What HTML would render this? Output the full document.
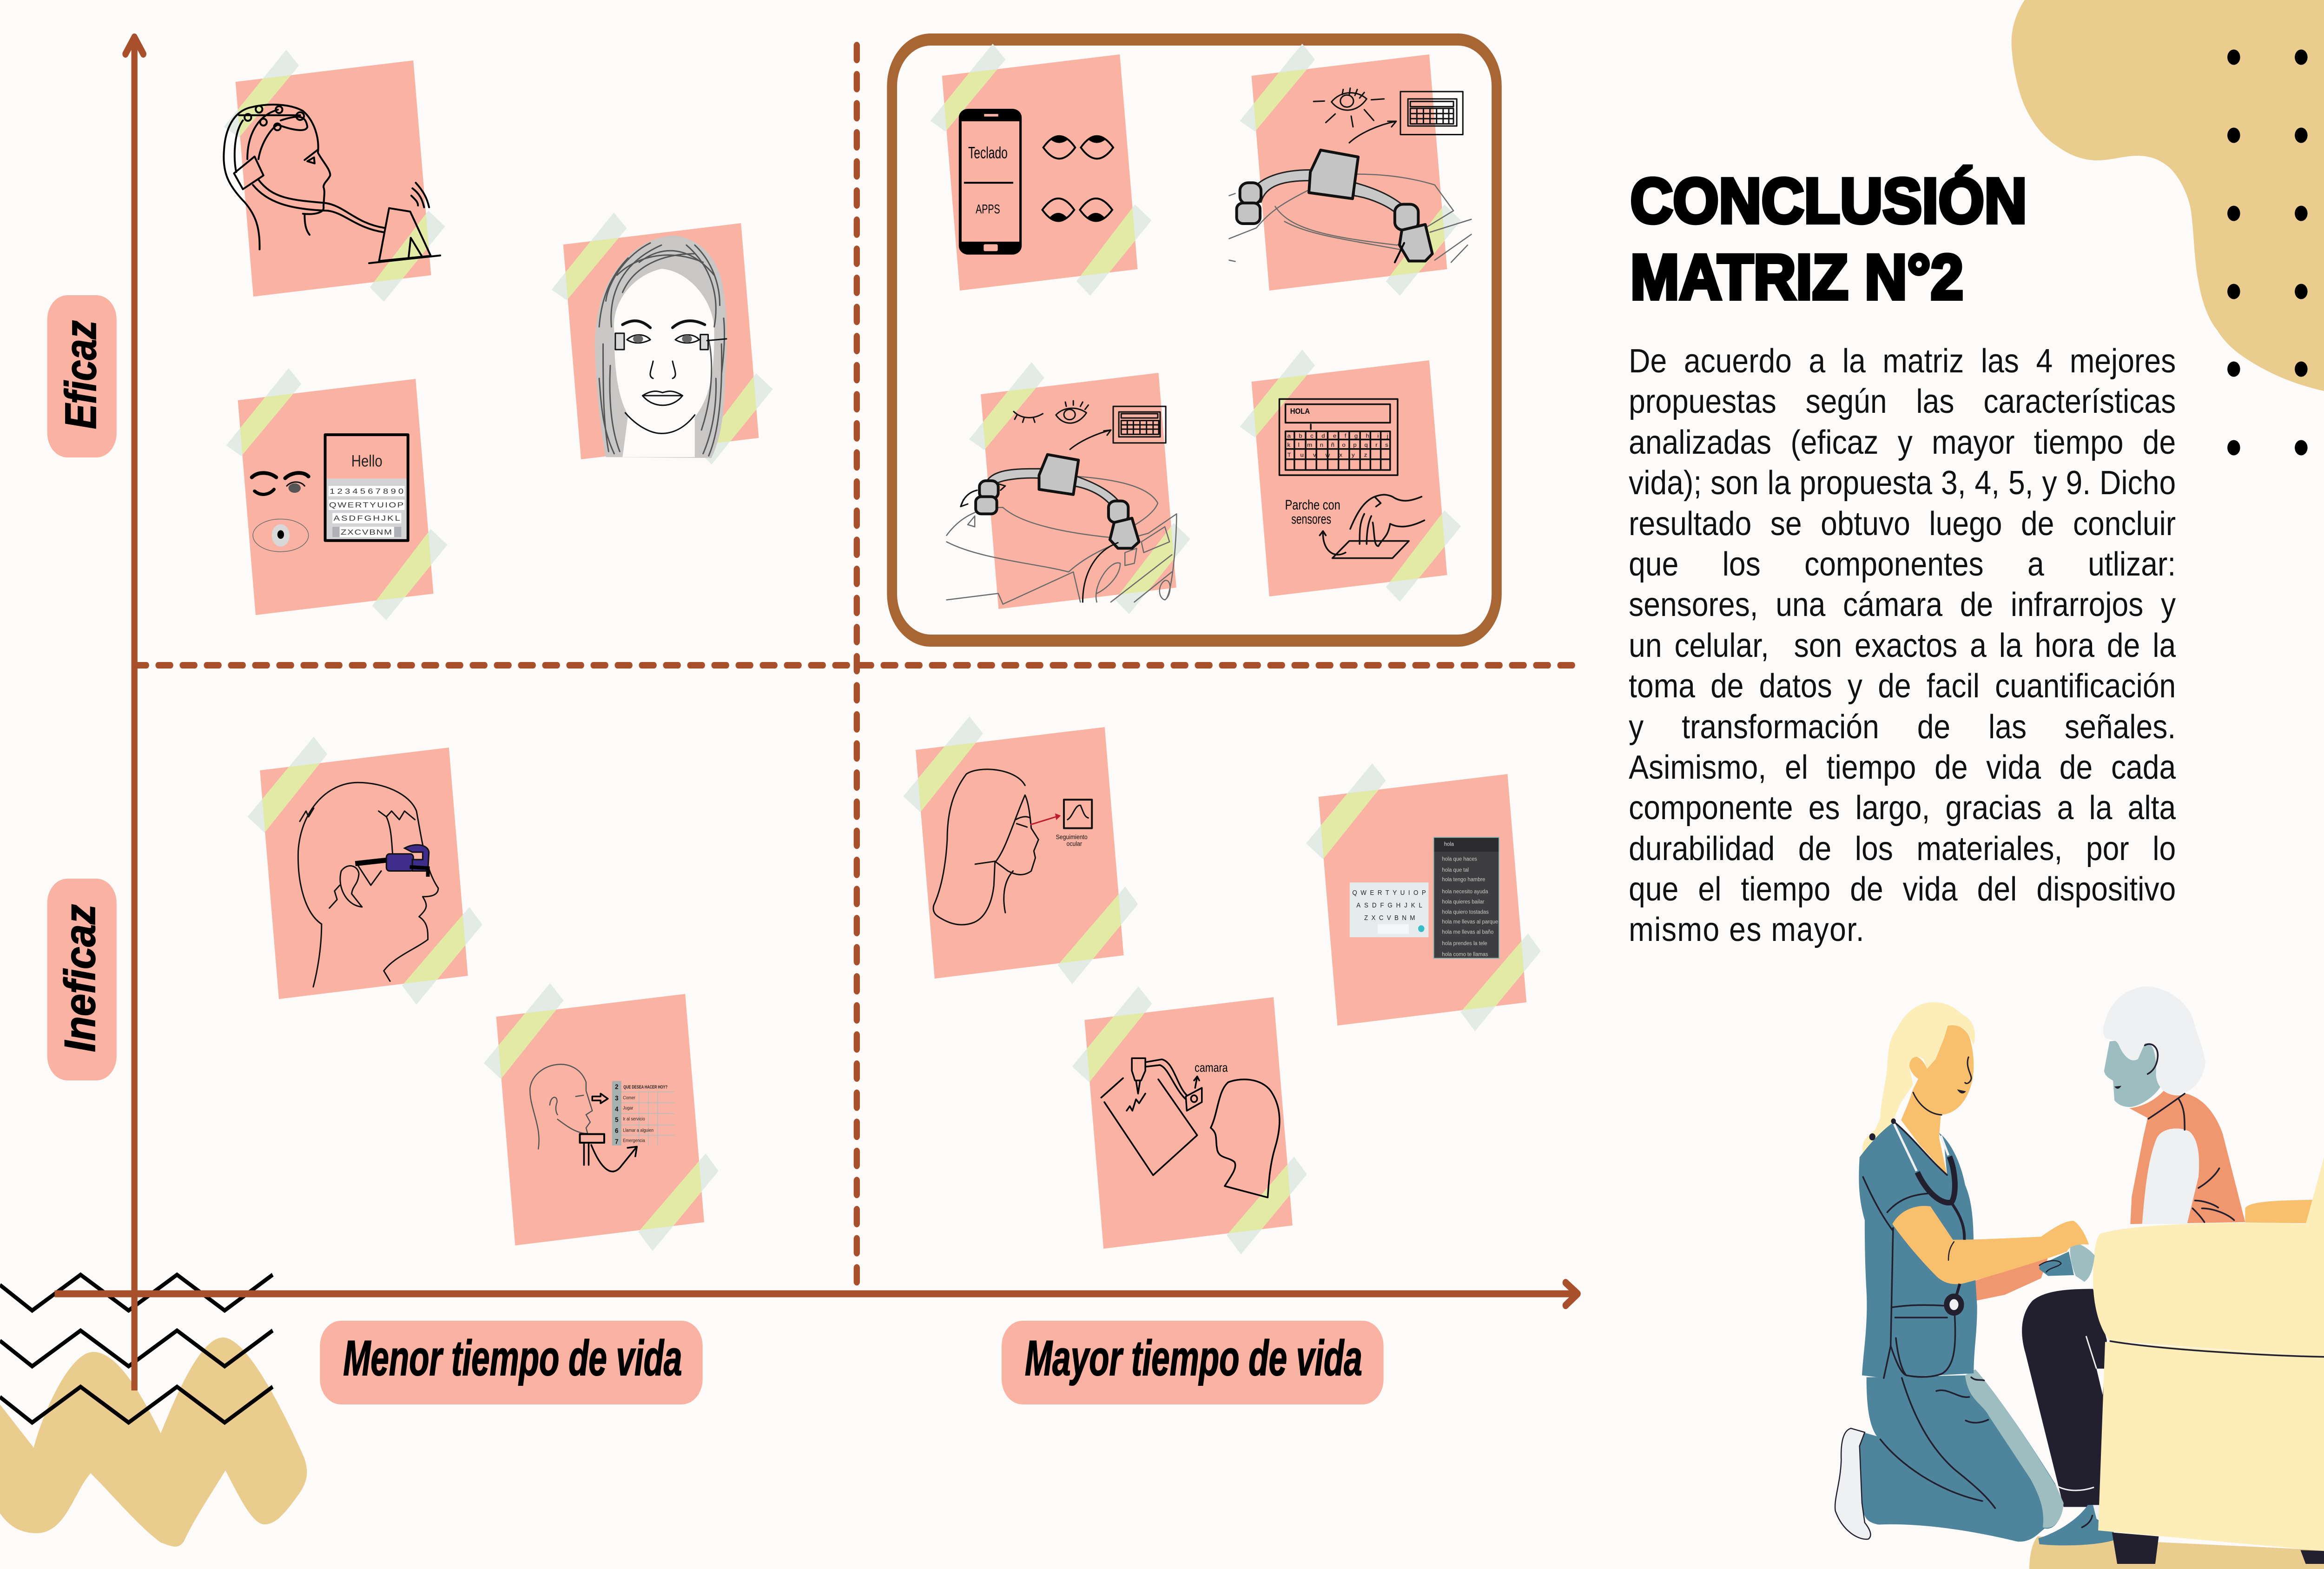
<!DOCTYPE html>
<html lang="es"><head><meta charset="utf-8"><title>Conclusión Matriz N°2</title>
<style>
html,body{margin:0;padding:0;background:#fcfbf9;width:100%;height:100%;overflow:hidden;font-family:"Liberation Sans",sans-serif}
svg.main{position:absolute;left:0;top:0;display:block;width:100vw;height:100vh}
.nss *{vector-effect:non-scaling-stroke}
.k{fill:none;stroke:#000;stroke-width:4;stroke-linecap:round;stroke-linejoin:round}
.t{fill:none;stroke:#111;stroke-width:3;stroke-linecap:round;stroke-linejoin:round}
.g{fill:none;stroke:#6b6b6b;stroke-width:2.5;stroke-linecap:round;stroke-linejoin:round}
.h{fill:none;stroke:#555;stroke-width:3;stroke-linecap:round}
.dev{fill:#c4c4c4;stroke:#111;stroke-width:6;stroke-linejoin:round}
.d{fill:none;stroke:#22202f;stroke-width:3.5;stroke-linecap:round;stroke-linejoin:round}
.body-text{width:1320px;font-family:"Liberation Sans",sans-serif;font-size:72px;line-height:87.4px;color:#111}
.body-text div{height:87.4px;white-space:normal;text-align:justify;text-align-last:justify;width:1320px}
.body-text div.last{text-align:left;text-align-last:left;letter-spacing:1.7px}
</style></head>
<body>
<svg class="main" viewBox="0 0 6000 3375" preserveAspectRatio="none" xmlns="http://www.w3.org/2000/svg">
<defs>
<clipPath id="clipA"><polygon points="0,0 459,-46 505,416 46,462"/></clipPath>
<clipPath id="clipB"><polygon points="0,0 488,-49 537,442 49,492"/></clipPath>
<g id="noteA">
<polygon points="0,0 459,-46 505,416 46,462" fill="#fab3a2"/>
<polygon points="131,-69 164,-35 9,120 -30,97" fill="#e3ebe6"/>
<polygon points="498,277 541,311 383,473 347,442" fill="#e3ebe6"/>
<g clip-path="url(#clipA)"><polygon points="131,-69 164,-35 9,120 -30,97" fill="#e2eaa6"/><polygon points="498,277 541,311 383,473 347,442" fill="#e2eaa6"/></g>
</g>
<g id="noteB">
<polygon points="0,0 488,-49 537,442 49,492" fill="#fab3a2"/>
<polygon points="139,-72 174,-35 12,134 -32,100" fill="#e3ebe6"/>
<polygon points="541,294 574,332 404,504 367,463" fill="#e3ebe6"/>
<g clip-path="url(#clipB)"><polygon points="139,-72 174,-35 12,134 -32,100" fill="#e2eaa6"/><polygon points="541,294 574,332 404,504 367,463" fill="#e2eaa6"/></g>
</g>
</defs>

<rect width="6000" height="3375" fill="#fcfbf9"/>

<!-- decorative blobs -->
<path fill="#e9cc8e" d="M5227,0 C5200,35 5190,70 5194,107 C5198,150 5210,195 5227,228 C5250,270 5280,298 5312,315 C5345,335 5380,345 5415,345 C5450,345 5485,335 5518,335 C5555,335 5580,345 5603,362 C5630,385 5650,420 5657,455 C5665,510 5665,560 5675,603 C5685,650 5700,685 5724,710 C5750,745 5785,765 5821,783 C5880,812 5940,830 6000,841 L6000,0 Z"/>
<path fill="#e9cc8e" d="M0,3021 L87,3114 C110,3040 180,2908 241,2908 C300,2908 360,2990 415,3083 C460,2990 520,2877 576,2877 C640,2877 740,3050 785,3135 C800,3170 790,3190 775,3210 C740,3250 715,3279 683,3279 C650,3279 615,3215 582,3163 C540,3220 500,3270 475,3315 C460,3335 440,3325 415,3318 C360,3285 290,3215 234,3169 C190,3210 170,3298 94,3298 C50,3298 20,3280 0,3255 Z"/>

<!-- dots -->
<g fill="#000">
<circle cx="5767" cy="123" r="16.5"/><circle cx="5941" cy="123" r="16.5"/>
<circle cx="5767" cy="291" r="16.5"/><circle cx="5941" cy="291" r="16.5"/>
<circle cx="5767" cy="459" r="16.5"/><circle cx="5941" cy="459" r="16.5"/>
<circle cx="5767" cy="627" r="16.5"/><circle cx="5941" cy="627" r="16.5"/>
<circle cx="5767" cy="794" r="16.5"/><circle cx="5941" cy="794" r="16.5"/>
<circle cx="5767" cy="963" r="16.5"/><circle cx="5941" cy="963" r="16.5"/>
</g>

<!-- zigzags -->
<g fill="none" stroke="#000" stroke-width="9">
<polyline points="0,2764 83,2819 208,2742 332,2819 457,2742 580,2819 704,2742"/>
<polyline points="0,2884 83,2939 208,2862 332,2939 457,2862 580,2939 704,2862"/>
<polyline points="0,3005 83,3060 208,2983 332,3060 457,2983 580,3060 704,2983"/>
</g>

<!-- highlight frame -->
<rect x="2303" y="85" width="1561" height="1293" rx="100" ry="100" fill="none" stroke="#a86634" stroke-width="26"/>

<!-- axes -->
<g fill="none" stroke="#a84f2b" stroke-linecap="round" stroke-linejoin="round">
<line x1="2212" y1="98" x2="2212" y2="2770" stroke-width="16" stroke-dasharray="30 32.6"/>
<line x1="346" y1="1431" x2="4064" y2="1431" stroke-width="14" stroke-dasharray="32 30.4"/>
<path stroke-width="16" stroke-linecap="butt" d="M347,2991 L347,80"/>
<path stroke-width="16" d="M324,116 L347,80 L370,116"/>
<path stroke-width="15" stroke-linecap="butt" d="M141,2783 L4072,2783"/>
<path stroke-width="16" d="M4042,2759 L4073,2783 L4042,2808"/>
</g>

<!-- axis labels -->
<rect x="122" y="635" width="179" height="349" rx="52" fill="#fab3a2"/>
<text transform="translate(247,923) rotate(-90)" font-size="114" font-weight="700" font-style="italic" textLength="234" lengthAdjust="spacingAndGlyphs" fill="#000" stroke="#000" stroke-width="2">Eficaz</text>
<rect x="122" y="1890" width="179" height="434" rx="52" fill="#fab3a2"/>
<text transform="translate(245,2263) rotate(-90)" font-size="112" font-weight="700" font-style="italic" textLength="318" lengthAdjust="spacingAndGlyphs" fill="#000" stroke="#000" stroke-width="2">Ineficaz</text>
<rect x="826" y="2841" width="988" height="180" rx="54" fill="#fab3a2"/>
<text x="886" y="2958" font-size="107" font-weight="700" font-style="italic" textLength="875" lengthAdjust="spacingAndGlyphs" fill="#000" stroke="#000" stroke-width="2">Menor tiempo de vida</text>
<rect x="2586" y="2841" width="986" height="180" rx="54" fill="#fab3a2"/>
<text x="2646" y="2958" font-size="107" font-weight="700" font-style="italic" textLength="871" lengthAdjust="spacingAndGlyphs" fill="#000" stroke="#000" stroke-width="2">Mayor tiempo de vida</text>

<!-- sticky notes -->
<use href="#noteA" x="608" y="176"/>
<use href="#noteA" x="1454" y="526"/>
<use href="#noteA" x="614" y="861"/>
<use href="#noteA" x="2432" y="163"/>
<use href="#noteA" x="3231" y="163"/>
<use href="#noteA" x="2532" y="848"/>
<use href="#noteA" x="3231" y="821"/>
<use href="#noteB" x="671" y="1657"/>
<use href="#noteB" x="1281" y="2187"/>
<use href="#noteB" x="2364" y="1613"/>
<use href="#noteB" x="3404" y="1714"/>
<use href="#noteB" x="2800" y="2194"/>

<!-- ZOOM 1 COORDS -->
<g class="nss" transform="scale(1.435,0.925)">
 <g class="k">
  <path d="M467,580 C468,530 460,500 440,470 C410,430 400,400 403,350 C405,300 420,260 450,250 C480,240 520,240 545,258 C565,280 575,320 572,355 C580,375 595,395 594,408 C590,420 582,425 582,435 C585,445 583,455 582,480 C585,495 565,500 545,497"/>
  <path d="M455,430 C480,470 520,487 590,490 C620,495 640,530 690,540"/>
  <path d="M465,418 C490,460 520,465 585,472 C620,478 640,520 692,530"/>
  <path d="M548,498 C548,520 550,535 557,546"/>
  <polygon points="421,403 458,364 474,408 437,440"/>
  <polygon points="700,484 738,492 775,595 682,607"/>
  <path d="M664,612 L792,594"/>
  <path d="M735,600 L739,553 L760,598"/>
  <path d="M742,438 C755,450 760,465 763,482 M748,425 C762,445 768,460 772,482 M740,455 C748,465 752,470 752,478"/>
  <path d="M445,370 C445,320 460,270 500,255 M465,370 C470,330 490,295 500,290 C520,300 550,310 553,295 C550,270 540,265 505,280 M437,280 C420,310 420,370 425,400 M430,268 L540,268"/>
  <ellipse cx="446" cy="273" rx="6" ry="8"/><ellipse cx="466" cy="254" rx="6" ry="8"/><ellipse cx="474" cy="284" rx="6" ry="8"/><ellipse cx="502" cy="255" rx="6" ry="8"/><ellipse cx="499" cy="295" rx="6" ry="8"/><ellipse cx="540" cy="270" rx="7" ry="9"/>
  <path d="M548,372 L572,348 M553,375 L565,366 L566,380 Z"/>
 </g>
 <g>
  <path fill="#c9c7c6" d="M1090,1063 C1080,1000 1072,900 1070,800 C1072,720 1085,660 1120,610 C1150,565 1185,548 1215,548 C1255,555 1285,590 1298,650 C1310,720 1308,800 1305,870 C1303,950 1300,1010 1280,1065 Z"/>
  <path fill="#fcfbfa" d="M1105,770 C1100,700 1140,640 1190,625 C1240,630 1285,700 1285,770 C1285,860 1280,920 1250,970 L1250,1063 L1120,1063 L1130,965 C1110,920 1105,850 1105,770 Z"/>
  <g class="h">
   <path d="M1100,760 C1095,680 1120,610 1190,570 M1120,680 C1140,620 1190,590 1250,590 M1150,610 C1190,570 1240,570 1285,640 M1285,760 C1295,690 1280,620 1235,570 M1085,800 C1085,900 1085,980 1095,1050 M1098,850 C1095,930 1100,1000 1115,1050 M1298,800 C1300,900 1295,1000 1275,1060 M1288,880 C1290,950 1280,1010 1265,1055 M1078,760 C1082,690 1100,640 1130,600 M1295,710 C1295,650 1275,600 1250,570 M1090,700 C1095,650 1130,590 1170,565 M1110,640 C1150,590 1210,580 1265,610 M1275,790 C1285,850 1280,930 1262,1000 M1078,880 C1082,950 1085,1000 1105,1055 M1302,740 C1305,780 1302,830 1298,870"/>
  </g>
  <g class="t">
   <path d="M1120,755 C1140,740 1155,745 1170,762 M1210,762 C1225,745 1245,740 1268,755" stroke-width="6"/>
   <path d="M1128,790 C1140,775 1160,775 1170,790 C1155,800 1140,800 1128,790 M1215,790 C1228,775 1248,775 1258,790 C1245,800 1228,800 1215,790"/>
   <path d="M1175,840 C1172,860 1165,875 1175,880 M1210,840 C1213,860 1220,875 1210,880"/>
   <path d="M1156,920 C1175,905 1185,910 1192,913 C1200,910 1210,905 1228,920 C1210,950 1175,950 1156,920 Z M1156,920 L1228,920"/>
   <path d="M1125,960 C1145,990 1170,1008 1190,1008 C1215,1008 1235,990 1250,965"/>
   <rect x="1107" y="775" width="16" height="38" fill="#d8d8d8"/><rect x="1260" y="778" width="14" height="35" fill="#d8d8d8"/>
   <path d="M1272,792 L1307,788"/>
  </g>
  <circle cx="1148" cy="788" r="9" fill="#666"/><circle cx="1236" cy="788" r="9" fill="#666"/>
 </g>
 <g>
  <rect x="585" y="1113" width="149" height="144" fill="#d3d3d6"/>
  <rect x="585" y="1011" width="149" height="246" class="k" style="stroke-width:6"/>
  <text x="660" y="1085" font-size="38" text-anchor="middle" fill="#222" textLength="56" lengthAdjust="spacingAndGlyphs">Hello</text>
  <rect x="591" y="1130" width="137" height="24" fill="#fff"/><rect x="591" y="1162" width="137" height="24" fill="#fff"/><rect x="598" y="1193" width="124" height="24" fill="#fff"/><rect x="598" y="1225" width="124" height="24" fill="#fff"/>
  <rect x="598" y="1225" width="13" height="24" fill="#aeb0b6"/><rect x="709" y="1225" width="13" height="24" fill="#aeb0b6"/>
  <g font-size="17" fill="#333">
   <text x="593" y="1148" textLength="133" lengthAdjust="spacing">1234567890</text>
   <text x="592" y="1180" textLength="134" lengthAdjust="spacing">QWERTYUIOP</text>
   <text x="600" y="1211" textLength="120" lengthAdjust="spacing">ASDFGHJKL</text>
   <text x="613" y="1243" textLength="92" lengthAdjust="spacing">ZXCVBNM</text>
  </g>
  <g class="k"><path d="M453,1110 C465,1095 485,1098 497,1110 M513,1112 C525,1098 545,1095 555,1108" style="stroke-width:8"/><path d="M458,1142 C470,1155 485,1150 493,1138" style="stroke-width:7"/></g>
  <circle cx="530" cy="1135" r="11" fill="#555"/><path class="t" d="M516,1130 C525,1118 540,1118 548,1130"/>
  <ellipse cx="505" cy="1245" rx="50" ry="38" class="g" style="stroke-width:1.5"/><ellipse cx="505" cy="1245" rx="16" ry="26" fill="#d8d8d8"/><ellipse cx="505" cy="1243" rx="6" ry="10" fill="#000"/>
 </g>
</g>

<!-- ZOOM 2 COORDS -->
<g class="nss" transform="translate(2250,0) scale(1.2117,0.925)">
 <g>
  <rect x="186" y="253" width="134" height="339" rx="20" fill="#000"/>
  <rect x="192" y="282" width="123" height="280" fill="#fab3a2"/>
  <rect x="240" y="265" width="30" height="6" fill="#fab3a2"/><rect x="239" y="568" width="30" height="16" rx="3" fill="#fab3a2"/>
  <line x1="197" y1="425" x2="302" y2="425" stroke="#000" stroke-width="4"/>
  <text x="248" y="368" font-size="38" text-anchor="middle" textLength="84" lengthAdjust="spacingAndGlyphs" fill="#000">Teclado</text>
  <text x="248" y="496" font-size="30" text-anchor="middle" textLength="52" lengthAdjust="spacingAndGlyphs" fill="#000">APPS</text>
  <g fill="#fab3a2" stroke="#000" stroke-width="4">
   <path d="M366,343 Q400,290 434,343 Q400,395 366,343 Z"/><path d="M446,343 Q480,290 515,343 Q480,395 446,343 Z"/>
   <path d="M364,488 Q398,435 432,488 Q398,540 364,488 Z"/><path d="M444,488 Q478,435 513,488 Q478,540 444,488 Z"/>
  </g>
  <path d="M382,325 Q400,305 418,325 Q400,340 382,325 Z M462,325 Q480,305 498,325 Q480,340 462,325 Z M380,505 Q398,485 416,505 Q398,520 380,505 Z M460,505 Q478,485 496,505 Q478,520 460,505 Z" fill="#000"/>
 </g>
 <g>
  <g class="g">
   <path d="M762,555 L820,530 C850,490 880,470 935,440 M860,480 C890,530 960,550 1120,570 L1240,490 L1200,430 C1140,410 1080,405 1035,405 M880,515 C930,545 1000,555 1125,580 M1190,540 L1278,510 M1200,605 L1278,545 M1235,610 L1270,570 M762,455 L775,450 M762,605 L775,608"/>
  </g>
  <path d="M800,470 C810,410 880,395 935,395 L935,420 C880,420 840,430 830,470 Z" fill="#c8c8c8" stroke="#222" stroke-width="3"/>
  <path d="M1030,425 C1080,440 1120,460 1150,495 L1130,510 C1110,480 1060,460 1028,455 Z" fill="#c8c8c8" stroke="#222" stroke-width="3"/>
  <rect x="785" y="425" width="45" height="50" rx="18" class="dev"/><rect x="778" y="472" width="50" height="48" rx="14" class="dev"/>
  <rect x="1115" y="475" width="50" height="60" rx="18" class="dev"/>
  <polygon class="dev" points="1130,535 1180,522 1195,590 1180,607 1145,607 1125,570"/>
  <polygon class="dev" points="957,349 1037,365 1025,462 932,448 935,400"/>
  <path d="M1115,610 L1135,565" class="k"/>
  <g class="t">
   <path d="M980,237 C1000,210 1035,210 1055,230 C1035,262 1000,265 980,237 Z"/><circle cx="1013" cy="235" r="14"/><path d="M1005,208 L1003,220 M1020,205 L1018,220 M1035,208 L1030,222 M1050,215 L1040,228"/>
   <path d="M965,235 L942,236 M1065,232 L1092,230 M988,265 L968,285 M1022,270 L1026,295 M1050,255 L1070,280 M1018,332 C1040,310 1080,290 1118,282 L1100,282 M1118,282 L1108,295"/>
   <rect x="1127" y="213" width="133" height="100"/><rect x="1143" y="230" width="104" height="63"/><rect x="1148" y="236" width="92" height="12"/>
   <path d="M1148,252 H1240 V288 H1148 Z M1148,264 H1240 M1148,276 H1240 M1162,252 V288 M1176,252 V288 M1190,252 V288 M1204,252 V288 M1218,252 V288 M1230,252 V288"/>
  </g>
 </g>
 <g>
  <g class="g">
   <path d="M160,1245 C190,1200 230,1180 280,1180 C320,1220 420,1240 510,1250 C550,1230 600,1200 610,1170 C590,1130 520,1115 440,1108 M160,1260 C230,1300 350,1310 420,1330 C460,1290 520,1260 590,1240 L650,1195 C650,1260 640,1390 625,1395 M160,1395 L270,1380 L280,1405 M280,1405 L430,1330 L445,1400 M480,1400 C470,1360 510,1300 530,1310 C530,1340 500,1370 480,1380 M540,1285 L565,1275 L560,1310 L540,1315 Z M575,1260 L625,1225 L635,1260 L580,1285 Z M510,1400 L640,1290 M560,1400 L640,1330 M625,1350 C640,1345 640,1385 625,1395 C610,1390 610,1360 625,1350 M205,1220 L220,1200 L220,1225 Z"/>
  </g>
  <path d="M245,1120 C260,1090 310,1090 360,1090 L360,1112 C320,1110 280,1115 265,1125 Z" fill="#c8c8c8" stroke="#222" stroke-width="3"/>
  <path d="M430,1105 C470,1120 510,1140 530,1170 L510,1175 C490,1150 460,1135 430,1130 Z" fill="#c8c8c8" stroke="#222" stroke-width="3"/>
  <rect x="230" y="1118" width="40" height="42" rx="14" class="dev"/><rect x="222" y="1155" width="45" height="40" rx="12" class="dev"/>
  <rect x="505" y="1165" width="42" height="50" rx="15" class="dev"/>
  <polygon class="dev" points="517,1215 555,1205 570,1260 555,1275 525,1275 508,1255"/>
  <polygon class="dev" points="375,1057 441,1070 430,1150 357,1138 357,1105"/>
  <path class="t" d="M450,1400 C450,1330 480,1280 525,1262" />
  <g class="t">
   <path d="M303,957 C320,975 345,975 365,962 M310,965 L305,975 M325,972 L322,982 M345,972 L348,982"/>
   <path d="M393,965 C410,945 440,945 458,960 C440,990 410,992 393,965 Z"/><circle cx="422" cy="964" r="12"/><path d="M415,945 L413,935 M430,942 L430,932 M445,945 L450,935 M455,952 L462,942"/>
   <path d="M423,1045 C445,1025 480,1008 510,1000 L495,1002 M510,1000 L502,1012"/>
   <rect x="515" y="945" width="112" height="85"/><rect x="527" y="958" width="88" height="58"/><rect x="532" y="962" width="78" height="10"/>
   <path d="M532,978 H612 V1010 H532 Z M532,988 H612 M532,998 H612 M545,978 V1010 M558,978 V1010 M572,978 V1010 M586,978 V1010 M600,978 V1010"/>
   <path d="M190,1178 C195,1160 205,1145 225,1140 M190,1178 L205,1172 M190,1178 L196,1162 M285,1130 L270,1125 M285,1130 L275,1140"/>
  </g>
 </g>
 <g class="t" style="stroke-width:3.5">
  <rect x="869" y="928" width="252" height="177"/><rect x="882" y="940" width="223" height="43"/>
  <path d="M882,1003 H1105 V1093 H882 Z M882,1022 H1105 M882,1044 H1105 M882,1068 H1105 M901,1003 V1093 M925,1003 V1093 M948,1003 V1093 M972,1003 V1093 M995,1003 V1093 M1018,1003 V1093 M1041,1003 V1093 M1063,1003 V1093 M1085,1003 V1093 M936,987 V998"/>
  <path d="M982,1298 L1110,1298 L1145,1258 L1018,1258 Z"/>
  <path d="M1010,1285 C985,1300 960,1280 962,1235 M955,1245 L962,1235 L968,1245"/>
  <path d="M1172,1155 C1150,1165 1130,1170 1110,1155 C1095,1148 1085,1150 1072,1155 C1050,1165 1035,1190 1020,1230 M1178,1210 C1150,1225 1125,1230 1105,1218 C1100,1250 1090,1250 1080,1270 C1070,1270 1072,1240 1068,1215 M1040,1265 C1040,1235 1040,1215 1050,1195 M1055,1265 C1055,1240 1058,1215 1065,1200 M1072,1155 L1085,1170 L1075,1178"/>
 </g>
 <text x="892" y="962" font-size="18" textLength="42" lengthAdjust="spacingAndGlyphs" font-weight="700" fill="#000">HOLA</text>
 <g font-size="13" fill="#000">
  <text x="886" y="1018" textLength="215" lengthAdjust="spacing">a b c d e f g h i j</text>
  <text x="886" y="1039" textLength="215" lengthAdjust="spacing">k l m n ñ o p q r s</text>
  <text x="886" y="1062" textLength="170" lengthAdjust="spacing">T u v w x y z</text>
 </g>
 <text x="940" y="1185" font-size="32" text-anchor="middle" textLength="118" lengthAdjust="spacingAndGlyphs" fill="#000">Parche con</text>
 <text x="937" y="1218" font-size="32" text-anchor="middle" textLength="85" lengthAdjust="spacingAndGlyphs" fill="#000">sensores</text>
</g>

<!-- ZOOM 3 COORDS -->
<g class="nss" transform="translate(0,1450) scale(1.339,1.2277)">
 <g>
  <g class="t">
   <path d="M620,438 C590,420 573,370 575,310 C580,240 630,190 690,190 C740,190 790,210 803,240 C815,300 822,345 845,375 C845,388 830,390 815,390 C825,405 825,410 808,425 C825,435 825,450 825,465 C805,480 760,495 740,520 L752,538"/>
   <path d="M620,438 C620,480 612,520 604,548"/>
   <path d="M578,258 L590,240 L595,250 L605,235 M730,240 L745,250 L755,240 L770,255 L780,240 L800,255 M745,250 C755,270 755,295 757,315"/>
   <path d="M698,408 C665,405 650,370 658,345 C670,330 690,335 692,350 C690,370 680,370 678,385 L698,408 M635,410 L650,395 L645,380 L655,370"/>
   <path d="M690,335 L715,370 L735,345"/>
  </g>
  <path d="M685,332 L745,326" stroke="#000" stroke-width="11" fill="none"/>
  <rect x="745" y="315" width="52" height="30" rx="6" fill="#3f2d8c" stroke="#111" stroke-width="3"/>
  <path d="M780,305 C800,295 825,298 827,312 L825,345 L795,345 L795,325 L815,325 L815,312 L795,312 Z" fill="#3f2d8c" stroke="#111" stroke-width="3"/>
  <path d="M790,338 L825,340 L825,355" stroke="#000" stroke-width="8" fill="none"/>
 </g>
 <g>
  <g class="g" style="stroke:#555">
   <path d="M1038,832 C1045,790 1020,760 1022,725 C1030,680 1110,665 1130,715 L1130,730 L1142,765 L1130,772 L1138,785 L1130,795 L1133,805 C1110,805 1090,790 1075,780 M1060,755 C1062,738 1075,738 1074,750 C1070,760 1072,768 1075,772 M1110,740 L1125,738"/>
  </g>
  <path class="k" d="M1142,740 H1158 V735 L1172,744 L1158,752 V747 H1142 Z" style="stroke-width:3.5"/>
  <rect x="1118" y="806" width="47" height="15" class="k" style="stroke-width:4"/>
  <path class="k" d="M1126,822 V860 M1135,822 V860 M1140,825 C1160,870 1180,880 1195,865 L1228,828 M1210,830 L1228,828 L1225,845" style="stroke-width:3.5"/>
  <rect x="1180" y="713" width="18" height="113" fill="#a7b0b0"/>
  <path d="M1198,732 H1300 M1198,751 H1300 M1198,770 H1300 M1198,790 H1300 M1198,808 H1300 M1232,732 V826 M1250,732 V826 M1268,732 V826" stroke="#b4bcbc" stroke-width="1.5" fill="none"/>
  <g font-size="12" font-weight="700" text-anchor="middle" fill="#111">
   <text x="1189" y="727">2</text><text x="1189" y="747">3</text><text x="1189" y="766">4</text><text x="1189" y="785">5</text><text x="1189" y="804">6</text><text x="1189" y="823">7</text>
  </g>
  <g font-size="8" fill="#222">
   <text x="1202" y="726" font-weight="700" textLength="85" lengthAdjust="spacingAndGlyphs">QUE DESEA HACER HOY?</text>
   <text x="1201" y="745">Comer</text><text x="1201" y="763">Jugar</text><text x="1201" y="782">Ir al servicio</text><text x="1201" y="802">Llamar a alguien</text><text x="1201" y="820">Emergencia</text>
  </g>
 </g>
</g>

<!-- ZOOM 4 COORDS -->
<g class="nss" transform="translate(2100,1450) scale(1.339,1.2277)">
 <g>
  <g class="t">
   <path d="M408,195 C390,165 320,160 295,175 C270,205 258,240 258,290 C255,340 245,380 232,405 C228,420 240,425 250,430 C270,440 290,442 310,435 C335,425 345,395 348,370 L350,330 C370,310 385,260 408,212 C415,225 418,250 420,270 L434,290 L425,310 L428,322 L420,345 C405,355 390,352 375,345 L350,328"/>
   <path d="M312,333 L350,328 M385,345 C365,365 365,395 370,418 M390,255 C400,250 410,248 418,252 M392,262 L412,268"/>
   <rect x="483" y="220" width="54" height="50" style="stroke-width:4"/>
   <path d="M490,255 C500,250 505,228 515,230 C520,240 522,250 530,252"/>
  </g>
  <path d="M418,264 L475,248" stroke="#c01c2f" stroke-width="3" fill="none"/><path d="M466,244 L477,248 L468,256 Z" fill="#c01c2f"/>
  <text x="498" y="289" font-size="11" text-anchor="middle" fill="#111">Seguimiento</text>
  <text x="503" y="301" font-size="11" text-anchor="middle" fill="#111">ocular</text>
 </g>
 <g>
  <rect x="1034" y="365" width="152" height="96" fill="#e6ebee"/>
  <g font-size="12" fill="#222">
   <text x="1039" y="387" textLength="142" lengthAdjust="spacing">QWERTYUIOP</text>
   <text x="1047" y="409" textLength="127" lengthAdjust="spacing">ASDFGHJKL</text>
   <text x="1062" y="431" textLength="98" lengthAdjust="spacing">ZXCVBNM</text>
  </g>
  <rect x="1088" y="438" width="60" height="17" fill="#f5f6f7"/>
  <circle cx="1172" cy="446" r="6" fill="#39bcc6"/>
  <rect x="1196" y="286" width="126" height="212" fill="#3e3e40" stroke="#8fb6b8" stroke-width="2"/>
  <rect x="1197" y="287" width="124" height="24" fill="#2b2b2e"/>
  <text x="1216" y="301" font-size="10" fill="#ddd">hola</text>
  <g font-size="10" fill="#c9c9c9">
   <text x="1212" y="327">hola que haces</text><text x="1212" y="346">hola que tal</text><text x="1212" y="363">hola tengo hambre</text><text x="1212" y="384">hola necesito ayuda</text><text x="1212" y="402">hola quieres bailar</text><text x="1212" y="420">hola quiero tostadas</text><text x="1212" y="437">hola me llevas al parque</text><text x="1212" y="455">hola me llevas al baño</text><text x="1212" y="475">hola prendes la tele</text><text x="1212" y="494">hola como te llamas</text>
  </g>
 </g>
 <g class="k" style="stroke-width:3.5">
  <path d="M597,708 L555,742 M561,750 L655,878 L740,808 L665,710"/>
  <path d="M614,673 H640 V695 L632,712 H620 L614,695 Z M622,712 L626,735 L630,712"/>
  <path d="M640,680 L672,675 C695,680 700,720 720,738 M640,688 L668,685 C685,690 695,725 718,745"/>
  <path d="M718,740 L749,725 V750 L720,765 Z"/><circle cx="734" cy="744" r="6"/>
  <path d="M604,765 L610,757 L615,765 L622,745 L628,752 L640,735"/>
  <path d="M736,725 L740,705 M734,712 L740,705 L744,712"/>
  <path d="M876,917 L793,897 C805,880 818,865 812,855 C800,845 780,850 778,830 C775,815 780,805 766,795 C780,770 780,730 800,715 C830,705 870,710 885,735 C905,765 900,800 890,830 C880,860 878,890 876,917 Z"/>
 </g>
 <text x="735" y="697" font-size="22" textLength="64" lengthAdjust="spacingAndGlyphs" fill="#000">camara</text>
</g>

<!-- Title -->
<text x="4209" y="479" font-size="137" font-weight="700" textLength="1024" lengthAdjust="spacingAndGlyphs" fill="#000" stroke="#000" stroke-width="8">CONCLUSIÓN</text>
<text x="4209" y="643" font-size="137" font-weight="700" textLength="860" lengthAdjust="spacingAndGlyphs" fill="#000" stroke="#000" stroke-width="8">MATRIZ N°2</text>

<!-- ZOOM 6 COORDS: nurse -->
<g class="nss" transform="translate(4600,2050) scale(0.8929,0.845)">
 <path fill="#e9cc8e" d="M716,1568 C716,1530 725,1500 740,1485 L1568,1520 L1568,1568 Z"/>
 <!-- patient -->
 <path fill="#f0976f" d="M1005,395 C1060,390 1095,360 1105,350 C1125,365 1150,365 1170,358 C1220,370 1255,410 1275,460 L1340,685 L1008,690 L1012,620 L1045,470 L1058,420 Z"/>
 <path fill="#9dbdc0" d="M948,225 L932,300 C935,315 950,320 958,325 L962,375 C975,390 1000,395 1020,390 C1060,380 1090,350 1095,340 L1085,230 L1000,220 Z"/>
 <path fill="#eff0f1" d="M1050,85 C1000,90 960,115 940,160 C930,185 925,200 935,215 C950,225 965,215 975,235 C990,265 1010,280 1030,270 L1050,230 C1070,225 1085,250 1082,310 C1085,345 1115,365 1145,360 C1180,355 1215,335 1225,280 C1220,240 1200,210 1190,170 C1170,120 1110,85 1050,85 Z"/>
 <path class="d" d="M1050,235 C1070,225 1090,240 1087,265 C1085,285 1075,300 1058,308"/>
 <path fill="#22202f" d="M962,340 Q972,352 982,338 Z"/>
 <path fill="#eff0f1" d="M1042,690 C1050,600 1060,520 1085,470 C1100,445 1150,440 1180,455 C1205,475 1210,520 1205,570 L1172,690 Z"/>
 <path class="d" d="M1060,422 C1090,405 1130,380 1165,358 M1148,372 C1165,395 1165,420 1165,450 M1205,598 C1230,585 1255,565 1265,548 M1195,630 C1220,630 1250,640 1262,648 M1215,650 C1250,650 1290,665 1308,680 M1188,650 C1200,660 1215,675 1222,685"/>
 <path fill="#f0976f" d="M555,835 L770,775 L750,828 L645,870 L562,885 Z"/>
 <path fill="#22202f" d="M900,855 C820,855 760,860 725,885 C695,915 685,960 705,1020 L815,1410 L920,1410 L940,985 Z"/>
 <path fill="none" stroke="#eff0f1" stroke-width="3" d="M880,975 L910,1058 M798,1358 C830,1372 870,1370 903,1360"/>
 <path fill="#fcfbf9" d="M910,1058 L935,1058 L928,1125 Z"/>
 <path fill="#eff0f1" d="M895,1405 L920,1405 L920,1440 L905,1440 Z"/>
 <path fill="#4f859c" d="M742,1490 C780,1480 850,1450 885,1405 L900,1405 L910,1440 L960,1470 L960,1495 C900,1510 800,1510 745,1505 Z"/>
 <path class="d" d="M868,1462 C885,1455 895,1445 898,1432"/>
 <path fill="#22202f" d="M955,1475 L1090,1485 L1080,1555 L970,1555 Z M1500,1520 L1568,1522 L1568,1555 L1515,1555 Z"/>
 <path fill="#f8bf6c" d="M1340,686 L1340,650 C1350,630 1450,630 1540,628 L1520,688 Z"/>
 <path fill="#fdedb8" d="M1515,690 L1568,520 L1568,695 Z"/>
 <path fill="#fdedb8" d="M935,990 L1568,1028 L1568,1522 L915,1470 Z"/>
 <path fill="#fdedb8" d="M920,715 C1000,690 1300,680 1568,692 L1568,1028 L950,988 C920,960 900,900 900,830 C900,780 905,730 920,715 Z"/>
 <path class="d" d="M950,988 C1100,1010 1400,1025 1568,1028"/>
 <path fill="#9dbdc0" d="M835,738 C850,735 880,745 905,770 C900,800 895,825 875,837 L850,822 C840,800 830,770 835,738 Z"/>
 <path fill="#4f859c" d="M745,795 L830,760 L845,820 L770,822 L745,805 Z"/>
 <path class="d" d="M745,795 C770,780 800,780 808,790 C800,800 775,800 765,812" style="stroke-width:2.5"/>
 <!-- nurse -->
 <path fill="#4f859c" d="M245,1080 L530,1075 L560,1060 C620,1120 720,1250 790,1350 L815,1400 C810,1440 790,1470 760,1465 L740,1480 C720,1495 700,1500 680,1498 C550,1470 400,1450 280,1455 C250,1450 235,1440 232,1400 L225,1255 L235,1220 L275,1230 C250,1200 245,1140 245,1080 Z"/>
 <path fill="#9dbdc0" d="M530,1075 L560,1060 C620,1120 720,1250 795,1360 L815,1400 C812,1440 790,1470 755,1462 C760,1420 750,1390 720,1340 L600,1180 C580,1145 540,1140 530,1075 Z"/>
 <path class="d" d="M345,1075 C380,1180 430,1260 500,1315 C550,1350 590,1380 617,1413 M285,1238 C340,1300 450,1370 580,1395 M447,1115 C480,1105 510,1135 542,1130 M532,1190 C555,1200 580,1195 597,1188 M548,1080 C560,1090 575,1085 585,1088"/>
 <path fill="#eef0f1" stroke="#22202f" stroke-width="2.5" d="M200,1210 C180,1215 170,1240 172,1290 C170,1350 150,1390 155,1420 C175,1470 220,1495 250,1492 C262,1485 258,1470 240,1450 L232,1400 L225,1255 L240,1220 Z"/>
 <path fill="#f8bf6c" d="M480,185 C510,180 535,190 545,220 C560,270 558,320 540,355 C520,395 490,410 460,412 L455,470 L478,565 L400,490 L345,425 C360,395 370,375 378,350 L395,320 C375,310 362,285 370,265 C385,255 410,270 420,295 L445,270 L470,215 Z"/>
 <path fill="#fdedb8" d="M440,125 C400,125 360,145 335,190 C315,215 308,230 305,290 C300,340 285,380 285,420 L270,450 L250,465 C232,480 228,505 240,525 L262,505 L320,430 L345,380 L380,335 L370,295 C365,270 385,255 410,270 L420,295 L445,270 L470,215 L480,185 C510,180 535,190 555,235 C565,200 555,170 520,155 C490,130 460,125 440,125 Z"/>
 <path class="d" d="M380,355 C395,385 425,410 462,412 M540,265 C530,290 550,310 548,320 C545,330 535,335 530,330" style="stroke-width:3"/>
 <path fill="#22202f" d="M507,347 Q520,365 533,352 Z"/>
 <circle cx="262" cy="468" r="9" fill="#22202f"/>
 <path fill="#4f859c" d="M325,430 C380,470 420,520 478,565 L470,490 L455,458 C490,480 520,540 530,590 C550,630 555,680 555,760 L565,900 C565,970 555,1010 555,1070 L345,1080 L295,1082 L232,1075 C235,1020 250,950 245,860 C240,780 240,720 240,680 C220,620 222,570 225,520 C250,490 290,450 325,430 Z"/>
 <path class="d" d="M325,430 C380,470 420,520 478,565 M235,570 C260,620 290,670 320,705 M305,660 C340,625 380,615 425,612 M322,700 L315,1000 L295,1082 M315,1000 C330,1040 345,1070 360,1075 C400,1082 440,1080 465,1070 C500,1050 505,1000 500,920 M318,902 C370,895 420,895 475,898 M328,928 H478 M330,980 C335,1020 345,1060 360,1075"/>
 <path fill="#f8bf6c" d="M320,690 C345,650 395,640 430,645 L495,730 C570,730 680,725 750,722 C785,700 820,680 845,682 C865,695 880,720 888,742 C860,740 830,745 825,760 C780,775 600,825 520,842 C490,845 470,840 450,825 C410,790 360,740 320,690 Z"/>
 <path class="d" d="M498,735 C485,750 482,765 482,782" style="stroke-width:2.5"/>
 <path fill="none" stroke="#eef0f1" stroke-width="5" d="M325,435 L390,555 M460,465 L482,515"/>
 <path fill="none" stroke="#22202f" stroke-width="12" d="M392,558 C420,610 460,640 490,635 C505,620 505,560 485,518"/>
 <path fill="none" stroke="#22202f" stroke-width="6" d="M490,635 C510,660 530,690 528,730 M515,842 L505,872"/>
 <circle cx="323" cy="428" r="7" fill="#22202f"/>
 <circle cx="498" cy="895" r="21" fill="#eef0f1" stroke="#22202f" stroke-width="12"/>
</g>

<g transform="translate(4205,734) scale(1.07,1)">
<foreignObject x="0" y="0" width="1320" height="1320">
<div xmlns="http://www.w3.org/1999/xhtml" class="body-text">
<div>De acuerdo a la matriz las 4 mejores</div>
<div>propuestas según las características</div>
<div>analizadas (eficaz y mayor tiempo de</div>
<div>vida); son la propuesta 3, 4, 5, y 9. Dicho</div>
<div>resultado se obtuvo luego de concluir</div>
<div>que los componentes a utlizar:</div>
<div>sensores, una cámara de infrarrojos y</div>
<div>un celular,&#160; son exactos a la hora de la</div>
<div>toma de datos y de facil cuantificación</div>
<div>y transformación de las señales.</div>
<div>Asimismo, el tiempo de vida de cada</div>
<div>componente es largo, gracias a la alta</div>
<div>durabilidad de los materiales, por lo</div>
<div>que el tiempo de vida del dispositivo</div>
<div class="last">mismo es mayor.</div>
</div>
</foreignObject>
</g>
</svg>
</body></html>
